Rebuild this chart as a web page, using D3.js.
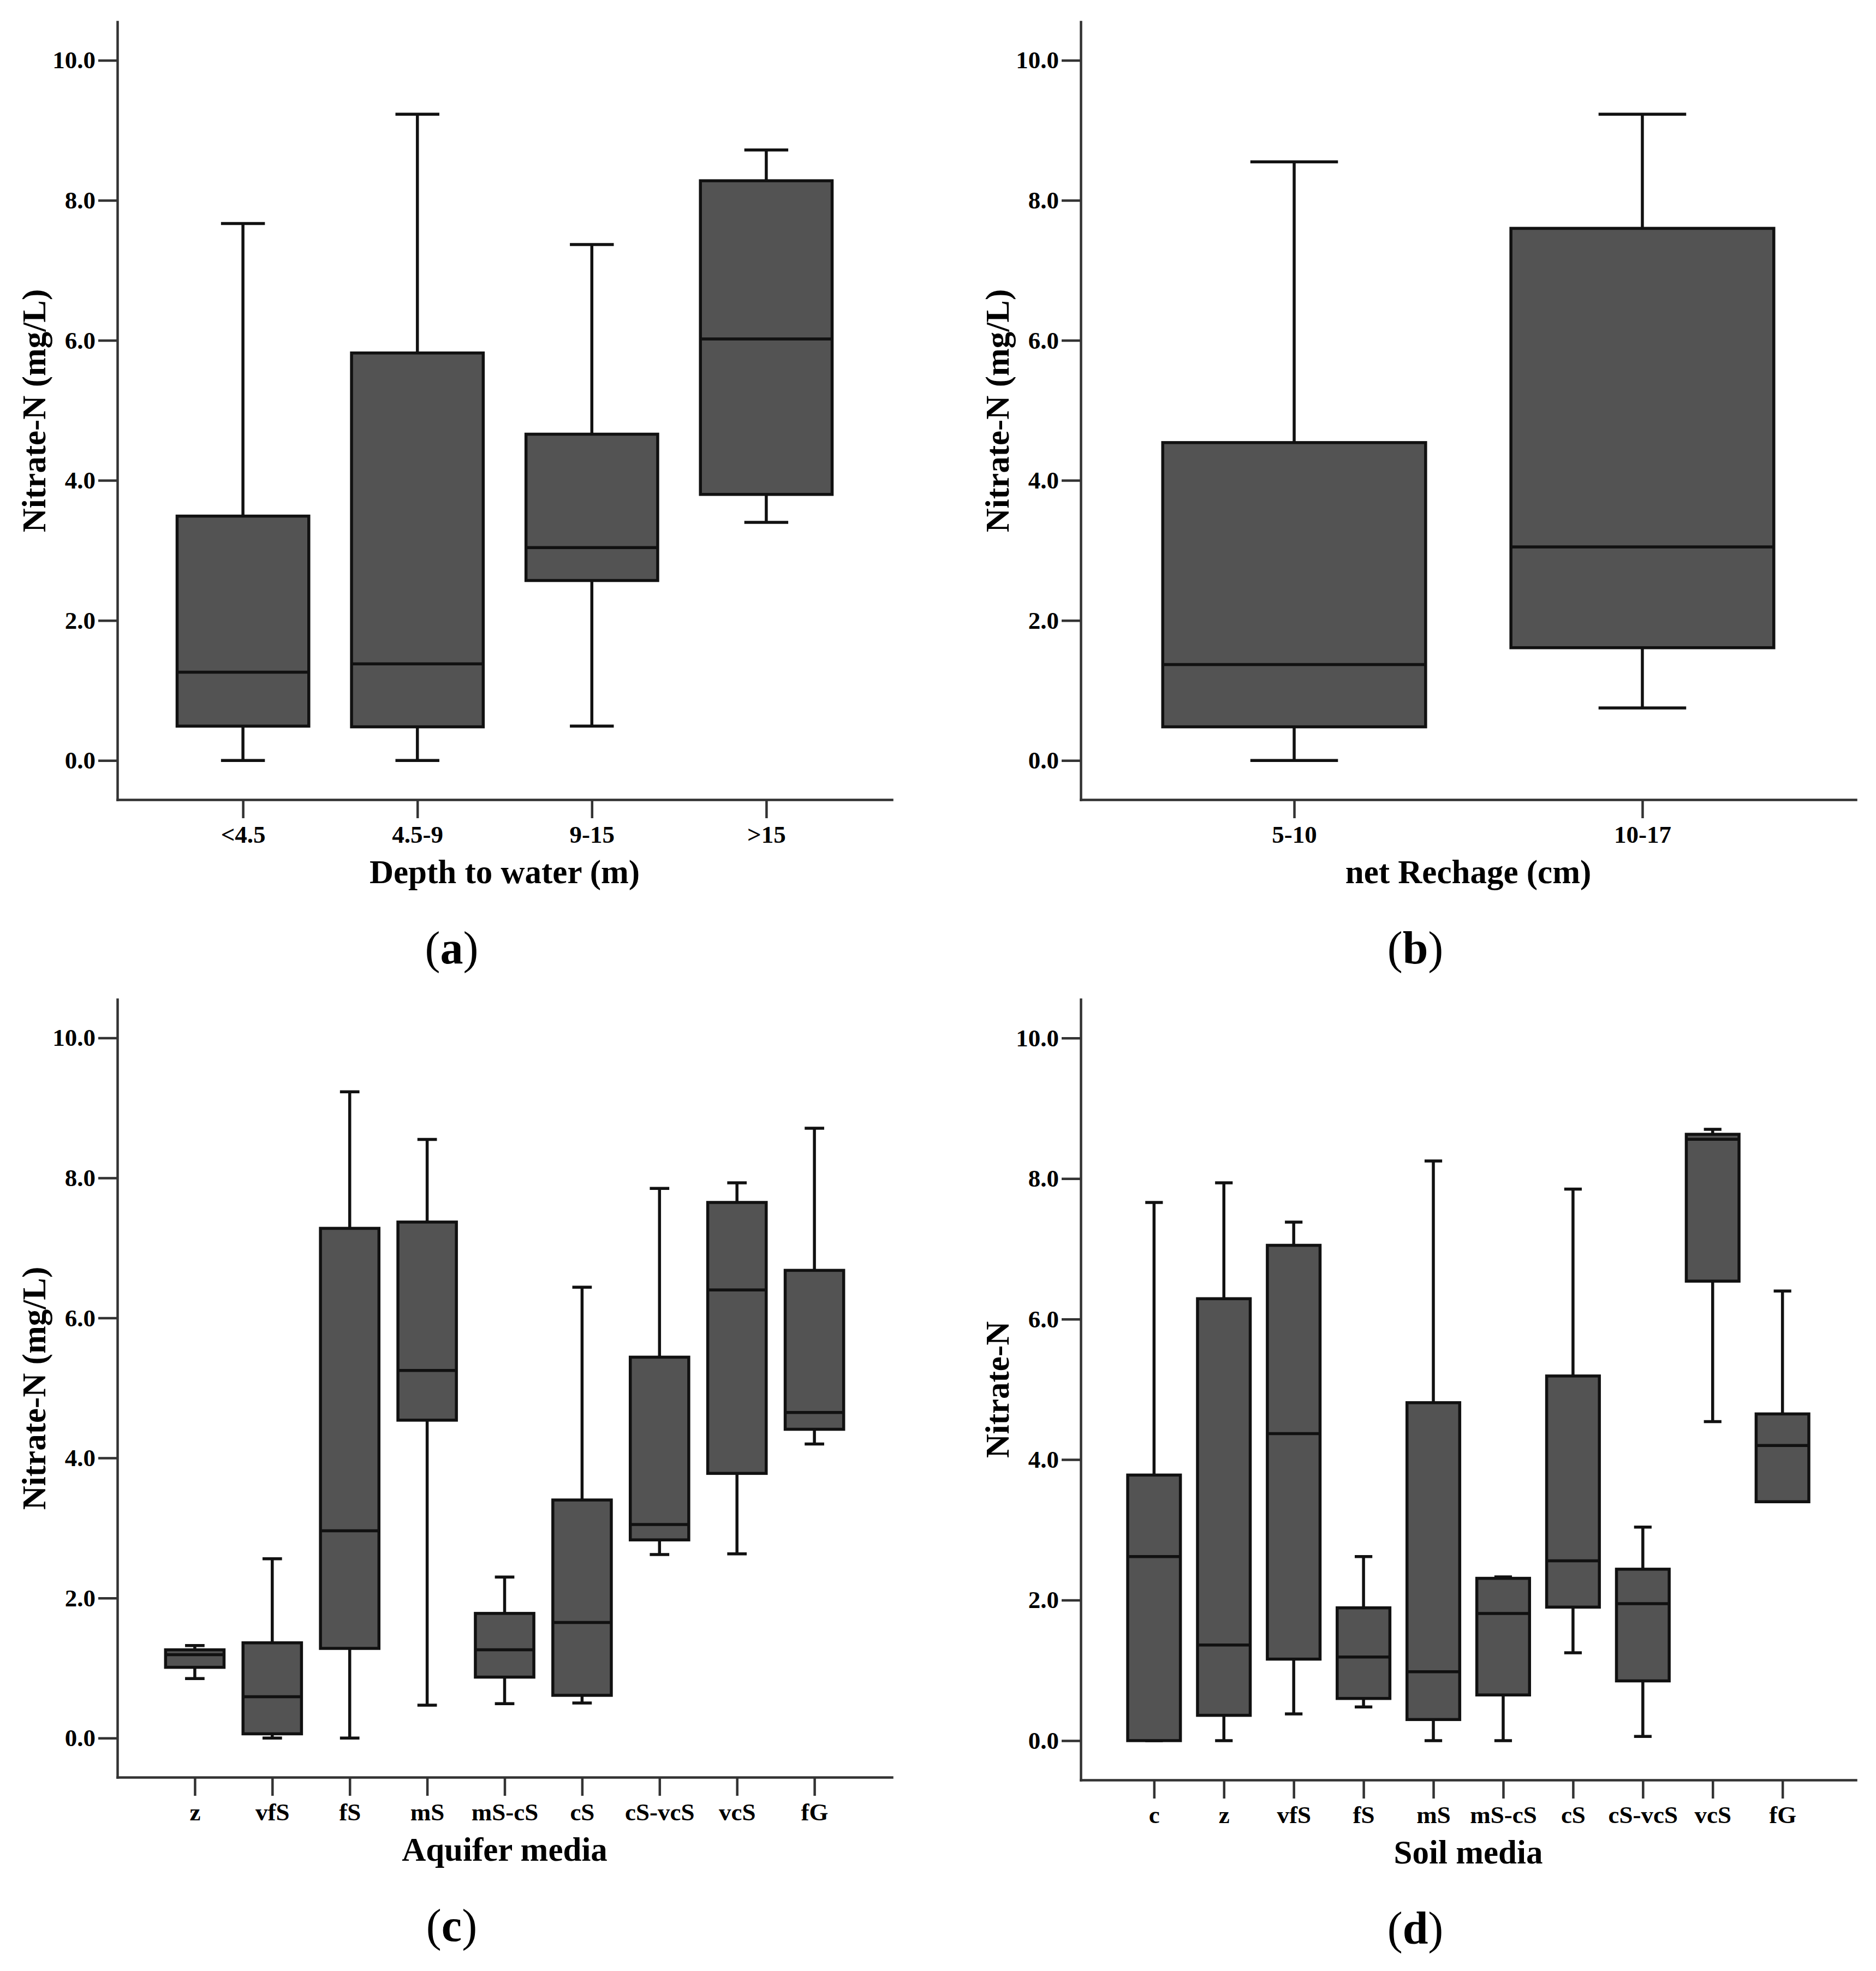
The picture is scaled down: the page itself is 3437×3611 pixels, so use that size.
<!DOCTYPE html>
<html lang="en">
<head>
<meta charset="UTF-8">
<title>Nitrate-N box plots</title>
<script src="https://cdn.jsdelivr.net/npm/d3@7"></script>
<style>
    body { margin: 0; background: #fff; }
    svg { display: block; }
</style>
</head>
<body>
<div id="chart"></div>
<script>
    // five-number summaries per category: [min, q1, median, q3, max]
    const depthCats = ["<4.5", "4.5-9", "9-15", ">15"];
    const depthStats = [
        [0.00, 0.49, 1.26, 3.49, 7.67],
        [0.00, 0.48, 1.38, 5.82, 9.23],
        [0.49, 2.57, 3.04, 4.66, 7.37],
        [3.40, 3.80, 6.02, 8.28, 8.72]
    ];

    const rechargeCats = ["5-10", "10-17"];
    const rechargeStats = [
        [0.00, 0.48, 1.37, 4.54, 8.55],
        [0.75, 1.61, 3.05, 7.60, 9.23]
    ];

    const aquiferCats = ["z", "vfS", "fS", "mS", "mS-cS", "cS", "cS-vcS", "vcS", "fG"];
    const aquiferStats = [
        [0.85, 1.01, 1.19, 1.26, 1.32],
        [0.00, 0.06, 0.59, 1.36, 2.56],
        [0.00, 1.28, 2.96, 7.28, 9.23],
        [0.47, 4.54, 5.25, 7.37, 8.55],
        [0.49, 0.87, 1.26, 1.78, 2.30],
        [0.50, 0.61, 1.65, 3.40, 6.44],
        [2.62, 2.83, 3.05, 5.44, 7.85],
        [2.63, 3.78, 6.40, 7.65, 7.93],
        [4.20, 4.41, 4.65, 6.68, 8.71]
    ];

    const soilCats = ["c", "z", "vfS", "fS", "mS", "mS-cS", "cS", "cS-vcS", "vcS", "fG"];
    const soilStats = [
        [0.00, 0.00, 2.62, 3.78, 7.66],
        [0.00, 0.36, 1.36, 6.29, 7.94],
        [0.38, 1.16, 4.37, 7.05, 7.38],
        [0.48, 0.60, 1.19, 1.89, 2.62],
        [0.00, 0.30, 0.98, 4.81, 8.25],
        [0.00, 0.65, 1.81, 2.31, 2.33],
        [1.25, 1.90, 2.56, 5.19, 7.85],
        [0.06, 0.85, 1.95, 2.44, 3.04],
        [4.54, 6.54, 8.56, 8.63, 8.70],
        [3.40, 3.40, 4.20, 4.65, 6.40]
    ];

    const yTicks = [0, 2, 4, 6, 8, 10];
    const yDomain = [-0.56, 10.55];

    const W = 3437, H = 3611;
    const font = "'Liberation Serif', 'Times New Roman', Times, serif";
    const boxFill = "#535353", ink = "#111", axisInk = "#333";
    const lineW = 5.5, axisW = 4.5;

    const panels = [
        {label: "a", cats: depthCats, stats: depthStats, xTitle: "Depth to water (m)", yTitle: "Nitrate-N (mg/L)",
            left: 215, right: 1634, top: 40, bottom: 1465, pad: 0.72},
        {label: "b", cats: rechargeCats, stats: rechargeStats, xTitle: "net Rechage (cm)", yTitle: "Nitrate-N (mg/L)",
            left: 1980, right: 3400, top: 40, bottom: 1465, pad: 0.613},
        {label: "c", cats: aquiferCats, stats: aquiferStats, xTitle: "Aquifer media", yTitle: "Nitrate-N (mg/L)",
            left: 215, right: 1634, top: 1831, bottom: 3256, pad: 1.0},
        {label: "d", cats: soilCats, stats: soilStats, xTitle: "Soil media", yTitle: "Nitrate-N",
            left: 1980, right: 3400, top: 1831, bottom: 3261, pad: 1.05}
    ];

    const svg = d3.select("#chart")
        .append("svg")
        .attr("width", W)
        .attr("height", H);

    function styleAxis(sel) {
        sel.attr("font-family", font)
            .attr("font-size", 45)
            .attr("font-weight", "bold");
        sel.select(".domain")
            .attr("stroke", axisInk)
            .attr("stroke-width", axisW)
            .attr("stroke-linecap", "square");
        sel.selectAll(".tick line")
            .attr("stroke", axisInk)
            .attr("stroke-width", axisW);
        sel.selectAll(".tick text").attr("fill", "#000");
    }

    function drawPanel(p) {
        const g = svg.append("g").attr("class", "panel-" + p.label);

        const x = d3.scalePoint()
            .domain(p.cats)
            .range([p.left, p.right])
            .padding(p.pad);
        const y = d3.scaleLinear()
            .domain(yDomain)
            .range([p.bottom, p.top]);

        const bw = x.step() * 0.755;
        const cw = bw / 3;

        // axes
        g.append("g")
            .attr("transform", "translate(0," + p.bottom + ")")
            .call(d3.axisBottom(x).tickSize(34).tickSizeOuter(0).tickPadding(13))
            .call(styleAxis);

        g.append("g")
            .attr("transform", "translate(" + p.left + ",0)")
            .call(d3.axisLeft(y).tickValues(yTicks).tickFormat(d3.format(".1f"))
                .tickSize(35).tickSizeOuter(0).tickPadding(5))
            .call(styleAxis);

        const rows = p.cats.map((c, i) => ({cat: c, s: p.stats[i]}));
        const box = g.selectAll(".box").data(rows).enter()
            .append("g").attr("class", "box");

        // whiskers
        box.append("line")
            .attr("x1", d => x(d.cat)).attr("x2", d => x(d.cat))
            .attr("y1", d => y(d.s[3])).attr("y2", d => y(d.s[4]));
        box.append("line")
            .attr("x1", d => x(d.cat)).attr("x2", d => x(d.cat))
            .attr("y1", d => y(d.s[1])).attr("y2", d => y(d.s[0]));
        box.append("line")
            .attr("x1", d => x(d.cat) - cw / 2).attr("x2", d => x(d.cat) + cw / 2)
            .attr("y1", d => y(d.s[4])).attr("y2", d => y(d.s[4]));
        box.append("line")
            .attr("x1", d => x(d.cat) - cw / 2).attr("x2", d => x(d.cat) + cw / 2)
            .attr("y1", d => y(d.s[0])).attr("y2", d => y(d.s[0]));
        box.selectAll("line")
            .attr("stroke", ink)
            .attr("stroke-width", lineW);

        box.append("rect")
            .attr("x", d => x(d.cat) - bw / 2)
            .attr("y", d => y(d.s[3]))
            .attr("width", bw)
            .attr("height", d => y(d.s[1]) - y(d.s[3]))
            .attr("fill", boxFill)
            .attr("stroke", ink)
            .attr("stroke-width", lineW);

        // median
        box.append("line")
            .attr("x1", d => x(d.cat) - bw / 2).attr("x2", d => x(d.cat) + bw / 2)
            .attr("y1", d => y(d.s[2])).attr("y2", d => y(d.s[2]))
            .attr("stroke", ink)
            .attr("stroke-width", lineW);

        // titles
        const cx = (p.left + p.right) / 2;
        g.append("text")
            .attr("x", cx)
            .attr("y", p.bottom + 153)
            .attr("text-anchor", "middle")
            .attr("font-family", font)
            .attr("font-weight", "bold")
            .attr("font-size", 61)
            .text(p.xTitle);

        g.append("text")
            .attr("transform", "translate(" + (p.left - 132) + "," + ((p.top + p.bottom) / 2) + ") rotate(-90)")
            .attr("text-anchor", "middle")
            .attr("font-family", font)
            .attr("font-weight", "bold")
            .attr("font-size", 61)
            .text(p.yTitle);

        const lab = g.append("text")
            .attr("x", cx - 97)
            .attr("y", p.bottom + 300)
            .attr("text-anchor", "middle")
            .attr("font-family", font)
            .attr("font-size", 84);
        lab.append("tspan").text("(");
        lab.append("tspan").attr("font-weight", "bold").text(p.label);
        lab.append("tspan").text(")");
    }

    panels.forEach(drawPanel);
</script>
</body>
</html>
